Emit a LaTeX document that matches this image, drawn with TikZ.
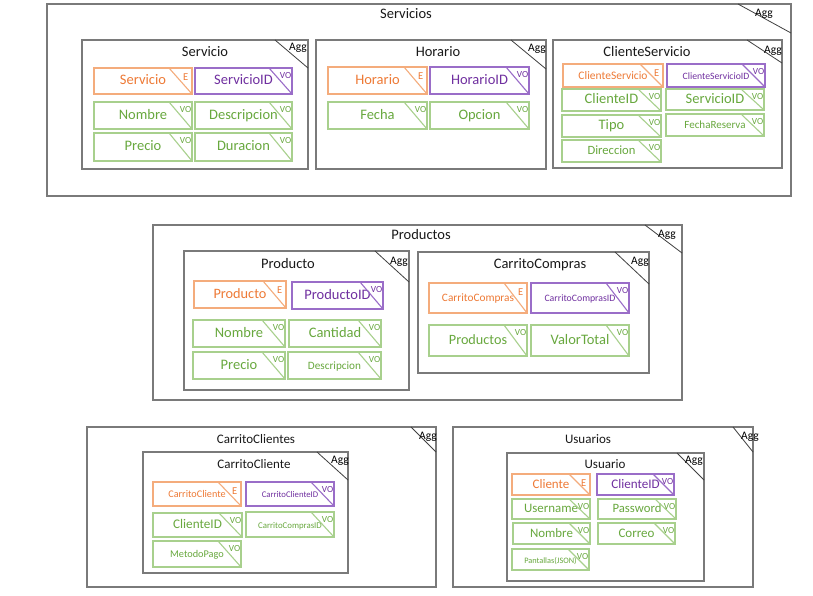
\documentclass[tikz,border=0pt]{standalone}
\usepackage{fontspec}
\setmainfont{Carlito}
\definecolor{orT}{HTML}{EE7A36}
\definecolor{orB}{HTML}{F4AC7C}
\definecolor{grT}{HTML}{68A83E}
\definecolor{grB}{HTML}{A8D08D}
\definecolor{puT}{HTML}{7030A0}
\definecolor{puB}{HTML}{9A6DC8}
\definecolor{aggB}{HTML}{7A7A7A}
\newcommand\dgoff{23pt}
\tikzset{
  basebox/.style={rectangle, outer sep=0pt, inner sep=0pt, line width=1.1pt, text height=0.78em, text depth=0.06em},
  ebox/.style={basebox, draw=orB, text=orT},
  vobox/.style={basebox, draw=grB, text=grT},
  idbox/.style={basebox, draw=puB, text=puT},
  eline/.style={draw=orB, line width=1.1pt},
  voline/.style={draw=grB, line width=1.1pt},
  idline/.style={draw=puB, line width=1.1pt},
  elab/.style={anchor=base east, inner sep=0pt, text=orT, font=\fontsize{10.5}{10.5}\selectfont, xshift=-3.5pt, yshift=-12.5pt},
  volab/.style={anchor=base east, inner sep=0pt, text=grT, font=\fontsize{9.3}{9.3}\selectfont, xshift=-0.6pt, yshift=-10.5pt},
  idlab/.style={anchor=base east, inner sep=0pt, text=puT, font=\fontsize{9.3}{9.3}\selectfont, xshift=-0.6pt, yshift=-10.5pt},
  aggbox/.style={rectangle, draw=aggB, line width=1.3pt, outer sep=0pt, inner sep=0pt},
  aggline/.style={draw=black!75, line width=0.8pt},
  agglab/.style={inner sep=0pt, font=\fontsize{11.5}{11.5}\selectfont},
  ttl/.style={inner sep=0pt, text=black!90},
}
% name, kind, x1, y1, x2, y2, size, text, label
\newcommand\ent[9]{%
  \node[#2box, minimum width={#5-#3}, minimum height={#6-#4}, font=\fontsize{#7}{#7}\selectfont] (#1) at ({(#3+#5)/2},{(#4+#6)/2}) {#8};
  \draw[#2line] ([xshift=-\dgoff]#1.north east) -- (#1.south east);
  \node[#2lab] (#1-l) at (#1.north east) {#9};
}
% name, x1, y1, x2, y2, linex, liney, aggx, aggy
\newcommand\agg[9]{%
  \node[aggbox, minimum width={#4-#2}, minimum height={#5-#3}] (#1) at ({(#2+#4)/2},{(#3+#5)/2}) {};
  \coordinate (#1-a) at (#6,#3);
  \coordinate (#1-b) at (#4,#7);
  \draw[aggline] (#1-a) -- (#1-b);
  \node[agglab] (#1-g) at (#8,#9) {Agg};
}
\begin{document}
\begin{tikzpicture}[x=1pt,y=-1pt]
\useasboundingbox[fill=white] (0,0) rectangle (813,595);

% ===== Servicios =====
\agg{Servicios}{47}{4}{791}{196}{738}{33}{764}{14}
\node[ttl, font=\fontsize{14.5}{14.5}\selectfont] (tServicios) at (406,14) {Servicios};

\agg{Servicio}{82}{40}{308}{169}{275}{68}{298}{48}
\node[ttl, font=\fontsize{14.5}{14.5}\selectfont] (tServicio) at (205,52) {Servicio};
\ent{sE}{e}{94}{68}{192}{94}{14.5}{Servicio}{E}
\ent{sID}{id}{195}{68}{292}{94}{14.5}{ServicioID}{VO}
\ent{sNom}{vo}{94}{102}{192}{129}{14.5}{Nombre}{VO}
\ent{sDesc}{vo}{195}{102}{292}{129}{14.5}{Descripcion}{VO}
\ent{sPre}{vo}{94}{133}{192}{161}{14.5}{Precio}{VO}
\ent{sDur}{vo}{195}{133}{292}{161}{14.5}{Duracion}{VO}

\agg{Horario}{316}{40}{546}{169}{511}{69}{537}{49}
\node[ttl, font=\fontsize{14.5}{14.5}\selectfont] (tHorario) at (438,52) {Horario};
\ent{hE}{e}{328}{67}{427}{94}{14.5}{Horario}{E}
\ent{hID}{id}{430}{67}{529}{94}{14.5}{HorarioID}{VO}
\ent{hFe}{vo}{328}{102}{427}{129}{14.5}{Fecha}{VO}
\ent{hOp}{vo}{430}{102}{529}{129}{14.5}{Opcion}{VO}

\agg{CliServ}{553}{40}{782}{168}{747}{63}{773}{51}
\node[ttl, font=\fontsize{14.5}{14.5}\selectfont] (tCliServ) at (647,52) {ClienteServicio};
\ent{csE}{e}{563}{64}{663}{87}{11.5}{ClienteServicio}{E}
\ent{csID}{id}{667}{64}{765}{87}{9.7}{ClienteServicioID}{VO}
\ent{csCli}{vo}{562}{89}{661}{111}{14.5}{ClienteID}{VO}
\ent{csSer}{vo}{666}{89}{764}{110}{14.5}{ServicioID}{VO}
\ent{csTipo}{vo}{562}{115}{661}{137}{14.5}{Tipo}{VO}
\ent{csFecha}{vo}{666}{114}{764}{136}{11}{FechaReserva}{VO}
\ent{csDir}{vo}{562}{140}{661}{162}{12.6}{Direccion}{VO}

% ===== Productos =====
\agg{Productos}{153}{225}{682}{400}{645}{253}{667}{235}
\node[ttl, font=\fontsize{14.5}{14.5}\selectfont] (tProductos) at (421,235) {Productos};

\agg{Producto}{184}{251}{409}{390}{375}{282}{399}{262}
\node[ttl, font=\fontsize{14.5}{14.5}\selectfont] (tProducto) at (288,264) {Producto};
\ent{pE}{e}{194}{281}{286}{308}{14.3}{Producto}{E}
\ent{pID}{id}{292}{282}{383}{309}{14.5}{ProductoID}{VO}
\ent{pNom}{vo}{193}{320}{285}{347}{14.5}{Nombre}{VO}
\ent{pCan}{vo}{289}{320}{381}{347}{14.5}{Cantidad}{VO}
\ent{pPre}{vo}{193}{352}{285}{379}{14.5}{Precio}{VO}
\ent{pDesc}{vo}{288}{352}{381}{379}{11.2}{Descripcion}{VO}

\agg{Carrito}{418}{252}{649}{373}{615}{284}{640}{262}
\node[ttl, font=\fontsize{14.5}{14.5}\selectfont] (tCarrito) at (540,265) {CarritoCompras};
\ent{ccE}{e}{429}{283}{527}{313}{11.3}{CarritoCompras}{E}
\ent{ccID}{id}{531}{283}{629}{313}{9.8}{CarritoComprasID}{VO}
\ent{ccProd}{vo}{429}{325}{527}{356}{14.2}{Productos}{VO}
\ent{ccVal}{vo}{531}{325}{629}{356}{14.5}{ValorTotal}{VO}

% ===== CarritoClientes =====
\agg{CarCls}{87}{427}{436}{587}{411}{452}{428}{437}
\node[ttl, font=\fontsize{13}{13}\selectfont] (tCarCls) at (256,439) {CarritoClientes};

\agg{CarCl}{143}{452}{348}{573}{317}{480}{340}{461}
\node[ttl, font=\fontsize{13}{13}\selectfont] (tCarCl) at (254,464) {CarritoCliente};
\ent{kE}{e}{153}{482}{241}{506}{10.2}{CarritoCliente}{E}
\ent{kID}{id}{246}{482}{334}{506}{8.7}{CarritoClienteID}{VO}
\ent{kCli}{vo}{153}{513}{242}{537}{13.2}{ClienteID}{VO}
\ent{kCC}{vo}{246}{512}{334}{537}{8.8}{CarritoComprasID}{VO}
\ent{kMP}{vo}{153}{541}{241}{567}{10.3}{MetodoPago}{VO}

% ===== Usuarios =====
\agg{Usuarios}{453}{427}{753}{587}{733}{452}{750}{437}
\node[ttl, font=\fontsize{13}{13}\selectfont] (tUsuarios) at (588,439) {Usuarios};

\agg{Usuario}{507}{453}{704}{581}{677}{480}{694}{461}
\node[ttl, font=\fontsize{13}{13}\selectfont] (tUsuario) at (605,464) {Usuario};
\renewcommand\dgoff{21pt}
\ent{uE}{e}{512}{474}{590}{495}{13}{Cliente}{E}
\ent{uID}{id}{597}{474}{674}{495}{13.1}{ClienteID}{VO}
\ent{uUser}{vo}{512}{499}{590}{519}{12.9}{Username}{VO}
\ent{uPass}{vo}{598}{499}{676}{519}{12.7}{Password}{VO}
\ent{uNom}{vo}{513}{523}{590}{544}{12.9}{Nombre}{VO}
\ent{uCor}{vo}{598}{523}{675}{544}{13}{Correo}{VO}
\ent{uPan}{vo}{512}{549}{589}{570}{8.3}{Pantallas(JSON)}{VO}
\end{tikzpicture}
\end{document}
